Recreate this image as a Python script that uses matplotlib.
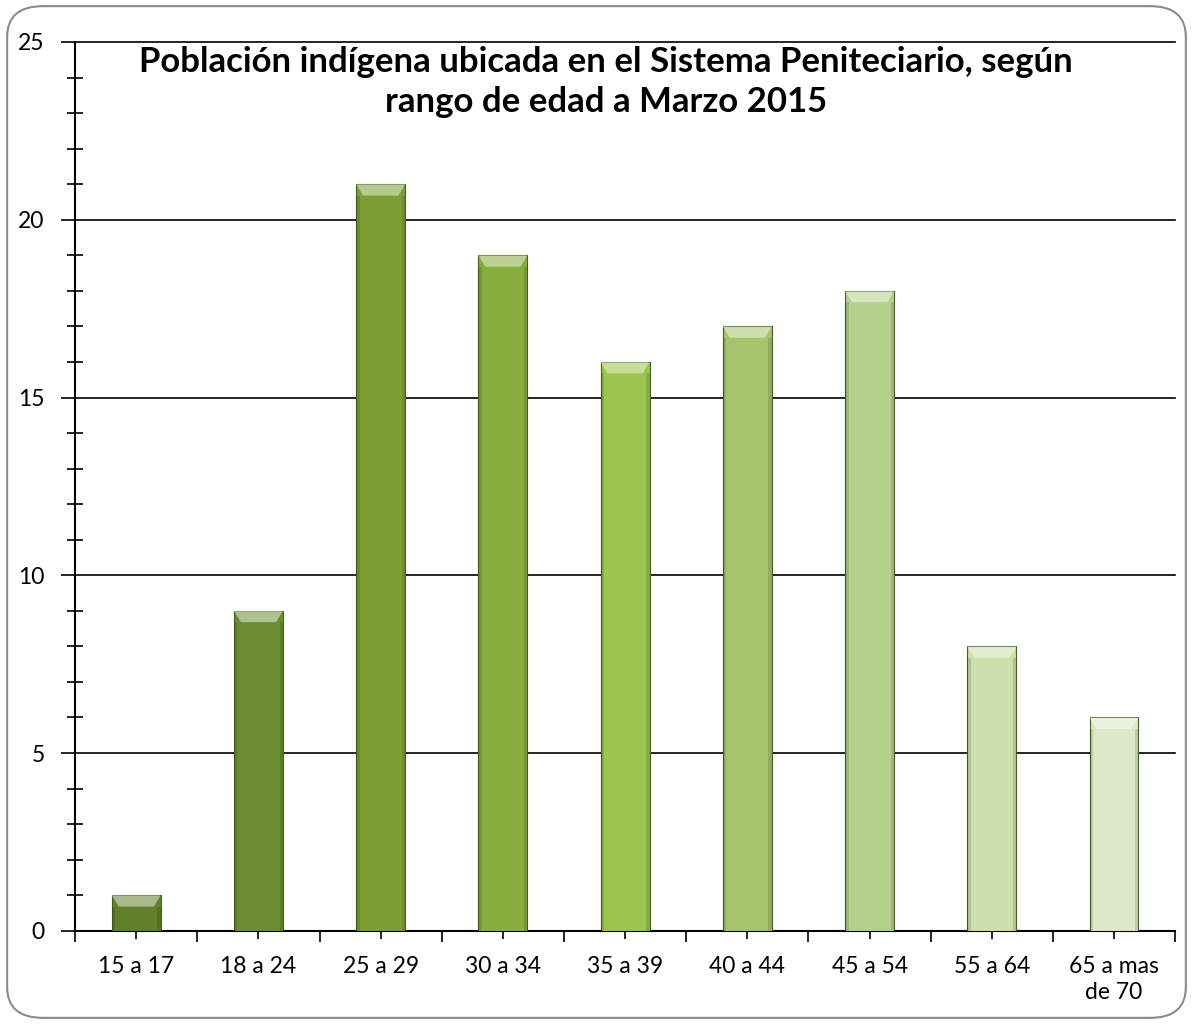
import numpy as np
import matplotlib.pyplot as plt
from matplotlib.patches import FancyBboxPatch, Polygon
from matplotlib.ticker import FixedLocator, MultipleLocator

# Datos
rangos = ['15 a 17', '18 a 24', '25 a 29', '30 a 34', '35 a 39',
          '40 a 44', '45 a 54', '55 a 64', '65 a mas\nde 70']
poblacion = [1, 9, 21, 19, 16, 17, 18, 8, 6]
colores = ['#61802b', '#6c8d2f', '#7b9f36', '#87ad3e', '#9bc54c',
           '#a6c46c', '#b5cf8c', '#cddfab', '#dde8c9']

plt.rcParams['font.family'] = ['Lato', 'DejaVu Sans']

fig = plt.figure(figsize=(11.93, 10.24), dpi=100)
ax = fig.add_axes([0.063, 0.091, 0.922, 0.868])

# borde redondeado
borde = FancyBboxPatch((0.006, 0.006), 0.988, 0.988, boxstyle='round,pad=0,rounding_size=0.03',
                       transform=fig.transFigure, fill=False, edgecolor='#8c8c8c', linewidth=1.5)
fig.patches.append(borde)

x = np.arange(len(rangos))
barras = ax.bar(x, poblacion, width=0.4, color=colores, edgecolor='#4a5e24',
                linewidth=0.8, zorder=3)

# efecto biselado en la parte superior de cada barra
for b, c in zip(barras, colores):
    x0, w, h = b.get_x(), b.get_width(), b.get_height()
    d = 0.32
    tapa = Polygon([(x0, h), (x0 + w, h), (x0 + w - w * 0.14, h - d), (x0 + w * 0.14, h - d)],
                   closed=True, facecolor='white', alpha=0.45, edgecolor='none', zorder=4)
    ax.add_patch(tapa)
    for xs in [(x0, x0 + w * 0.07), (x0 + w - w * 0.07, x0 + w)]:
        ax.fill_between(xs, 0, h - d, color='black', alpha=0.12, linewidth=0, zorder=4)

ax.set_xlim(-0.5, len(rangos) - 0.5)
ax.set_ylim(0, 25)
ax.yaxis.set_major_locator(MultipleLocator(5))
ax.yaxis.set_minor_locator(MultipleLocator(1))
ax.grid(axis='y', which='major', color='black', linewidth=1.2, zorder=1)
for gl in ax.get_ygridlines():
    gl.set_clip_on(False)

ax.xaxis.set_major_locator(FixedLocator(np.arange(-0.5, len(rangos), 1.0)))
ax.xaxis.set_minor_locator(FixedLocator(x))
ax.set_xticklabels([])
ax.set_xticks(x, rangos, minor=True)
ax.tick_params(axis='x', which='major', length=8, width=1.2, direction='out')
ax.tick_params(axis='x', which='minor', length=12, width=1.2, direction='inout',
               labelsize=16.5, pad=12)
ax.tick_params(axis='y', which='major', length=10, width=1.2, direction='out',
               labelsize=16.5, pad=12)
ax.tick_params(axis='y', which='minor', length=12, width=1.2, direction='inout')
for t in ax.xaxis.get_minorticklabels():
    t.set_linespacing(1.3)

ax.spines['right'].set_visible(False)
ax.spines['top'].set_visible(False)
ax.spines['left'].set_linewidth(1.5)
ax.spines['bottom'].set_linewidth(1.5)

fig.text(0.508, 0.92, 'Población indígena ubicada en el Sistema Peniteciario, según\nrango de edad a Marzo 2015',
         ha='center', va='center', fontsize=25, fontweight='bold', linespacing=1.3)

fig.savefig('out.png', dpi=100)
